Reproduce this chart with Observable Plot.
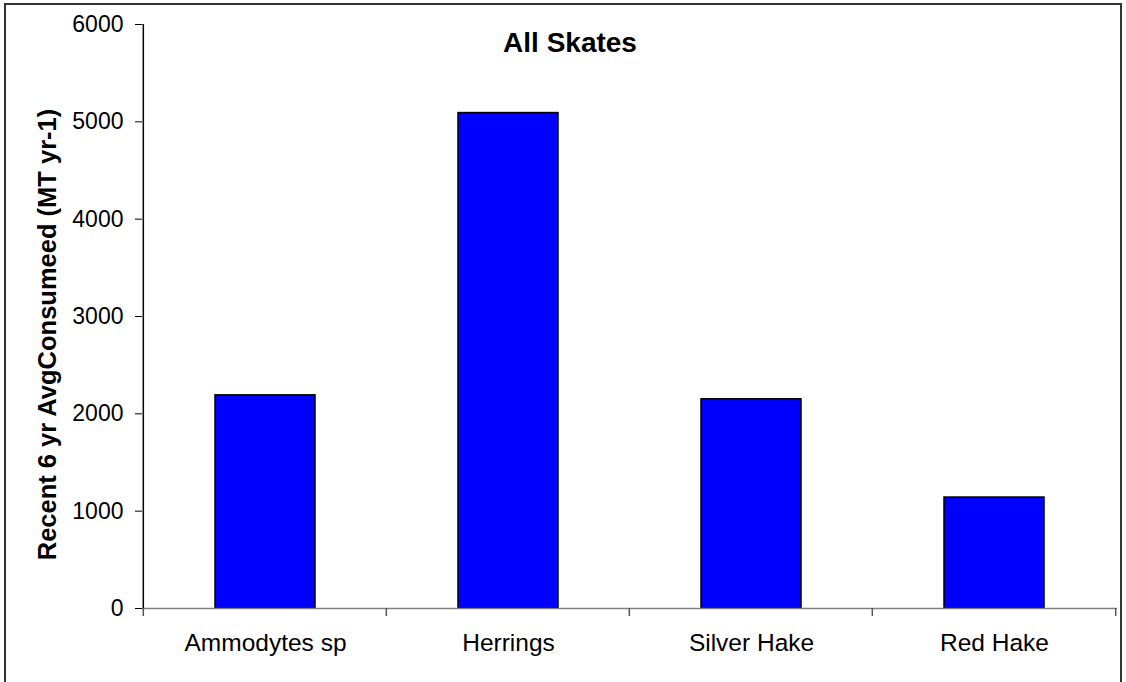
<!DOCTYPE html>
<html>
<head>
<meta charset="utf-8">
<script src="https://cdn.jsdelivr.net/npm/d3@7"></script>
<script src="https://cdn.jsdelivr.net/npm/@observablehq/plot@0.6"></script>
<style>
  html, body { margin: 0; padding: 0; background: #fff; }
  #wrap { position: relative; width: 1126px; height: 682px; overflow: hidden; font-family: "Liberation Sans", Arial, sans-serif; }
  #border { position: absolute; left: 4px; top: 3px; width: 1118px; height: 690px; border: 2px solid #333; box-sizing: border-box; pointer-events: none; }
  #chart svg { display: block; }
</style>
</head>
<body>
<div id="wrap"><div id="chart"></div><div id="border"></div></div>
<script>
const title = "All Skates";
const yLabel = "Recent 6 yr AvgConsumeed (MT yr-1)";
const categories = ["Ammodytes sp", "Herrings", "Silver Hake", "Red Hake"];
const values = [2190, 5090, 2150, 1140];
const yTicks = [0, 1000, 2000, 3000, 4000, 5000, 6000];

const data = categories.map((c, i) => ({category: c, value: values[i]}));

const chart = Plot.plot({
  width: 1126,
  height: 682,
  marginLeft: 142,
  marginTop: 24,
  marginBottom: 74,
  marginRight: 9,
  style: {fontFamily: "'Liberation Sans', Arial, sans-serif", color: "#000", background: "#fff"},
  x: {domain: categories, paddingInner: 0.59, paddingOuter: 0.295, label: null},
  y: {domain: [0, 6000], label: null},
  marks: [
    Plot.barY(data, {x: "category", y: "value", fill: "#0000ff", stroke: "#000", strokeWidth: 1.5}),
    Plot.ruleY([0], {stroke: "#808080", strokeWidth: 1.5}),
    Plot.axisY({ticks: yTicks, tickFormat: d3.format("d"), tickSize: 7, tickPadding: 12, fontSize: 23, label: null, stroke: "#000"}),
    Plot.axisX({tickSize: 0, tickPadding: 25, fontSize: 24.5, label: null}),
    Plot.text([title], {frameAnchor: "top", dx: -60, dy: 8, fontSize: 28, fontWeight: "bold", fill: "#000"}),
    Plot.text([yLabel], {frameAnchor: "left", textAnchor: "middle", rotate: -90, dx: -95, dy: 18, fontSize: 25.5, fontWeight: "bold", fill: "#000"})
  ]
});

// Axis line on the left and category boundary ticks below the x axis, from the chart's own scales
const xs = chart.scale("x");
const ys = chart.scale("y");
const svg = d3.select(chart);
const y0 = ys.apply(0), yTop = ys.apply(6000);
const half = xs.step * xs.paddingInner / 2;
const bounds = categories.map(c => xs.apply(c) - half);
bounds.push(xs.apply(categories[categories.length - 1]) + xs.bandwidth + half);
svg.append("line")
  .attr("x1", bounds[0]).attr("x2", bounds[0])
  .attr("y1", yTop).attr("y2", y0)
  .attr("stroke", "#000").attr("stroke-width", 1.5);
svg.append("g").selectAll("line").data(bounds).join("line")
  .attr("x1", d => d).attr("x2", d => d)
  .attr("y1", y0).attr("y2", y0 + 8)
  .attr("stroke", "#555").attr("stroke-width", 1.5);

document.getElementById("chart").append(chart);
</script>
</body>
</html>
